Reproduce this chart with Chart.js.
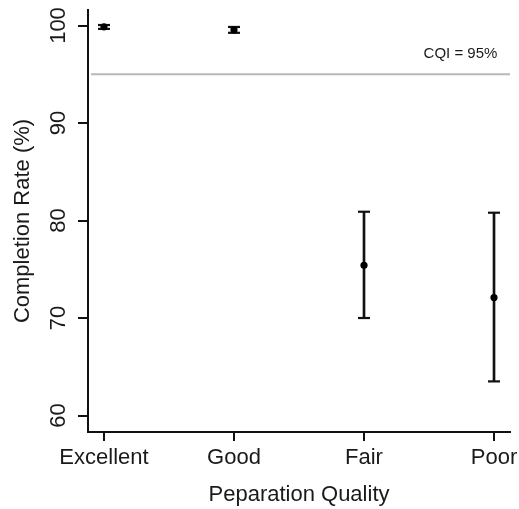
<!DOCTYPE html>
<html>
<head>
<meta charset="utf-8">
<script src="https://cdn.jsdelivr.net/npm/chart.js@4/dist/chart.umd.min.js"></script>
<style>
  html, body { margin: 0; padding: 0; background: #fff; }
  #wrap { width: 519px; height: 509px; }
</style>
</head>
<body>
<div id="wrap"><canvas id="c" width="519" height="509"></canvas></div>
<script>
// ---- data ----
const categories = ["Excellent", "Good", "Fair", "Poor"];
const meanRate = [99.85, 99.55, 75.4, 72.1];
const lowerCI = [99.65, 99.25, 70.0, 63.5];
const upperCI = [100.05, 99.85, 80.9, 80.8];
const yTicks = [60, 70, 80, 90, 100];
const cqiValue = 95;
const cqiLabel = "CQI = 95%";

const FONT = "'Liberation Sans', Arial, Helvetica, sans-serif";
const TXT = '#1a1a1a';

const idx = categories.map((_, i) => i);

const whiskers = idx.map(i => ({ x: i, y: [lowerCI[i], upperCI[i]] }));
const lowCaps = idx.map(i => ({ x: i, y: lowerCI[i] }));
const highCaps = idx.map(i => ({ x: i, y: upperCI[i] }));
const means = idx.map(i => ({ x: i, y: meanRate[i] }));

const X_MIN = -0.123, X_MAX = 3.123;
const cqiLine = [{ x: -0.1, y: cqiValue }, { x: X_MAX, y: cqiValue }];

const decor = {
  id: 'decor',
  afterDraw(chart) {
    const { ctx, scales } = chart;
    const y = scales.y, x = scales.x;
    ctx.save();
    ctx.fillStyle = TXT;
    // rotated y tick labels (R style)
    ctx.font = "22px " + FONT;
    ctx.textAlign = 'center';
    ctx.textBaseline = 'alphabetic';
    yTicks.forEach(v => {
      const py = y.getPixelForValue(v);
      ctx.save();
      ctx.translate(65, py);
      ctx.rotate(-Math.PI / 2);
      ctx.fillText(String(v), 0, 0);
      ctx.restore();
    });
    // CQI label
    ctx.font = "15px " + FONT;
    ctx.textAlign = 'center';
    ctx.fillText(cqiLabel, x.getPixelForValue(2.742), y.getPixelForValue(96.64));
    ctx.restore();
  }
};

new Chart(document.getElementById('c'), {
  data: {
    datasets: [
      {
        type: 'line', data: cqiLine, borderColor: '#b8b8b8', borderWidth: 2,
        pointRadius: 0, fill: false, order: 5
      },
      {
        type: 'bar', data: whiskers, backgroundColor: '#111', borderWidth: 0,
        barThickness: 2, grouped: false, order: 3
      },
      {
        type: 'scatter', data: lowCaps, pointStyle: 'line', pointRadius: 6,
        borderColor: '#111', borderWidth: 2.2, order: 2
      },
      {
        type: 'scatter', data: highCaps, pointStyle: 'line', pointRadius: 6,
        borderColor: '#111', borderWidth: 2.2, order: 2
      },
      {
        type: 'scatter', data: means, pointStyle: 'circle', pointRadius: 3.6,
        backgroundColor: '#000', borderColor: '#000', borderWidth: 0, order: 1
      }
    ]
  },
  options: {
    responsive: false,
    animation: false,
    devicePixelRatio: 1,
    layout: { padding: { top: 10, right: 9, left: 0, bottom: 0 } },
    plugins: { legend: { display: false }, tooltip: { enabled: false } },
    scales: {
      x: {
        type: 'linear', min: X_MIN, max: X_MAX, offset: false,
        afterBuildTicks: s => { s.ticks = idx.map(v => ({ value: v })); },
        afterFit: s => { s.height = 77; s.paddingLeft = 0; s.paddingRight = 0; },
        grid: { offset: false, drawOnChartArea: false, drawTicks: true, tickLength: 9, color: '#111', lineWidth: 2 },
        border: { display: true, color: '#111', width: 2 },
        ticks: {
          color: TXT, font: { size: 22, family: FONT }, padding: 4,
          maxRotation: 0, autoSkip: false,
          callback: v => categories[v]
        },
        title: {
          display: true, text: 'Peparation Quality', color: TXT,
          font: { size: 22, family: FONT }, padding: { top: 0, bottom: 1 }
        }
      },
      y: {
        type: 'linear', min: 58.31, max: 101.59,
        afterBuildTicks: s => { s.ticks = yTicks.map(v => ({ value: v })); },
        afterFit: s => { s.width = 88; s.paddingTop = 0; s.paddingBottom = 0; },
        grid: { offset: false, drawOnChartArea: false, drawTicks: true, tickLength: 10, color: '#111', lineWidth: 2 },
        border: { display: true, color: '#111', width: 2 },
        ticks: { display: false },
        title: {
          display: true, text: 'Completion Rate (%)', color: TXT,
          font: { size: 22, family: FONT }, padding: { top: 10, bottom: 0 }
        }
      }
    }
  },
  plugins: [decor]
});
</script>
</body>
</html>
